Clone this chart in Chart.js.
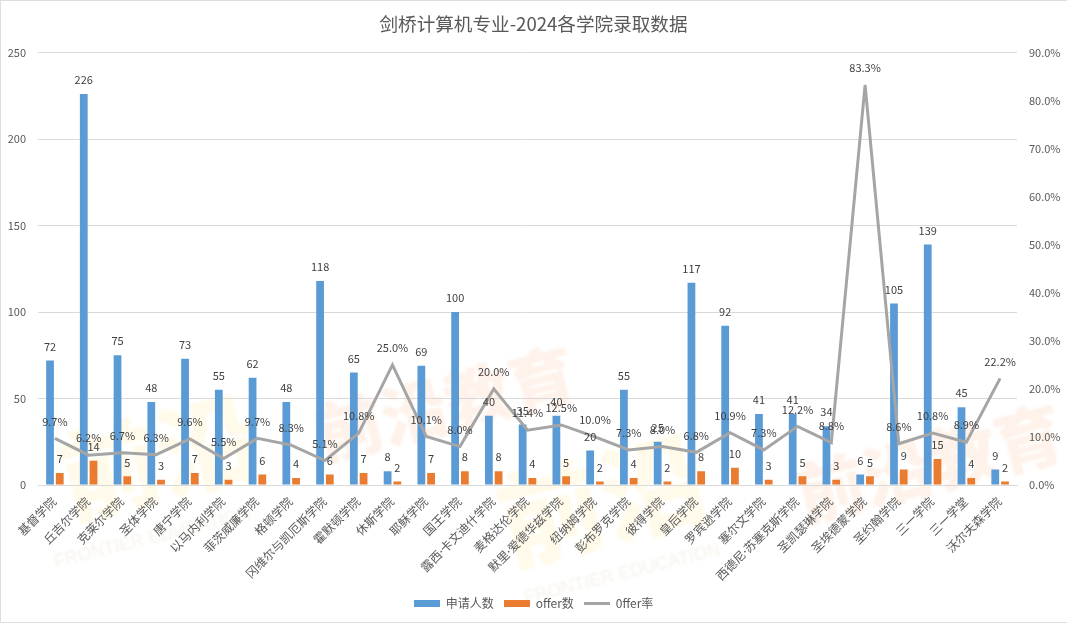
<!DOCTYPE html>
<html>
<head>
<meta charset="utf-8">
<script src="https://cdn.jsdelivr.net/npm/chart.js@4/dist/chart.umd.min.js"></script>
<style>
    html, body { margin: 0; padding: 0; background: #fff; }
    #wrap { position: relative; width: 1067px; height: 623px; overflow: hidden; box-shadow: inset 1px 1px 0 #dedede, inset 0 -1px 0 #dedede; }
    #wrap canvas { position: absolute; left: 0; top: 0; }
    .wm { position: absolute; white-space: nowrap; font-family: "Noto Sans CJK SC"; font-weight: 900; transform-origin: left top; transform: rotate(-14deg); filter: blur(1px); }
    .wm.en { font-family: "Liberation Sans"; font-weight: 400; font-size: 18px; color: #f6f3ea; }
</style>
</head>
<body>
<div id="wrap">
    <div class="wm" style="left:42px;top:405px;font-size:100px;color:#fffaea;">前沿</div>
    <div class="wm" style="left:305px;top:385px;font-size:66px;color:#fef2ea;">前沿教育</div>
    <div class="wm" style="left:480px;top:445px;font-size:105px;color:#fffaea;">前沿</div>
    <div class="wm" style="left:785px;top:445px;font-size:68px;color:#fef2ea;">前沿教育</div>
    <div class="wm en" style="left:52px;top:552px;">FRONTIER EDUCATION</div>
    <div class="wm en" style="left:522px;top:588px;">FRONTIER EDUCATION</div>
    <canvas id="c" width="1067" height="623"></canvas>
</div>
<script>
// ── Data ──
const colleges = ['基督学院','丘吉尔学院','克莱尔学院','圣体学院','唐宁学院','以马内利学院','菲茨威廉学院','格顿学院','冈维尔与凯厄斯学院','霍默顿学院','休斯学院','耶稣学院','国王学院','露西·卡文迪什学院','麦格达伦学院','默里·爱德华兹学院','纽纳姆学院','彭布罗克学院','彼得学院','皇后学院','罗宾逊学院','塞尔文学院','西德尼·苏塞克斯学院','圣凯瑟琳学院','圣埃德蒙学院','圣约翰学院','三一学院','三一学堂','沃尔夫森学院'];
const applicants = [72,226,75,48,73,55,62,48,118,65,8,69,100,40,35,40,20,55,25,117,92,41,41,34,6,105,139,45,9];
const offers = [7,14,5,3,7,3,6,4,6,7,2,7,8,8,4,5,2,4,2,8,10,3,5,3,5,9,15,4,2];
const offerRate = [9.7,6.2,6.7,6.3,9.6,5.5,9.7,8.3,5.1,10.8,25.0,10.1,8.0,20.0,11.4,12.5,10.0,7.3,8.0,6.8,10.9,7.3,12.2,8.8,83.3,8.6,10.8,8.9,22.2];

const FONT = '"Noto Sans CJK SC", "Noto Sans"';
const BLUE = '#5B9BD5', ORANGE = '#E97C30', GREY = '#A5A5A5';

// small legend swatches, the line one is thinner than the bars
function swatch(color, h) {
    const cv = document.createElement('canvas');
    cv.width = 26; cv.height = h;
    const g = cv.getContext('2d');
    g.fillStyle = color;
    g.fillRect(0, 0, 26, h);
    return cv;
}
const swatches = [swatch(BLUE, 7), swatch(ORANGE, 7), swatch(GREY, 3)];

// ── Value labels above bars and line points ──
const valueLabels = {
    id: 'valueLabels',
    afterDatasetsDraw(chart) {
        const ctx = chart.ctx;
        ctx.save();
        ctx.font = '11px ' + FONT;
        ctx.fillStyle = '#404040';
        ctx.textAlign = 'center';
        ctx.textBaseline = 'middle';
        chart.data.datasets.forEach((ds, i) => {
            chart.getDatasetMeta(i).data.forEach((el, j) => {
                const isLine = ds.type === 'line';
                const txt = isLine ? ds.data[j].toFixed(1) + '%' : String(ds.data[j]);
                ctx.fillText(txt, el.x, el.y - (isLine ? 17 : 14));
            });
        });
        ctx.restore();
    }
};

new Chart(document.getElementById('c'), {
    type: 'bar',
    data: {
        labels: colleges,
        datasets: [
            { label: '申请人数', data: applicants, backgroundColor: BLUE, categoryPercentage: 0.576, barPercentage: 0.8, yAxisID: 'y', order: 2 },
            { label: 'offer数', data: offers, backgroundColor: ORANGE, categoryPercentage: 0.576, barPercentage: 0.8, yAxisID: 'y', order: 2 },
            { type: 'line', label: '0ffer率', data: offerRate, borderColor: GREY, backgroundColor: GREY, borderWidth: 3, pointRadius: 0, tension: 0, yAxisID: 'y1', order: 1 }
        ]
    },
    options: {
        responsive: false,
        animation: false,
        layout: { padding: { top: 0, bottom: 4, left: 0, right: 0 } },
        plugins: {
            title: { display: true, text: '剑桥计算机专业-2024各学院录取数据', color: '#595959', font: { family: FONT, size: 18.6, lineHeight: 1.16, weight: 'normal' }, padding: { top: 13, bottom: 18 } },
            legend: {
                position: 'bottom',
                labels: {
                    color: '#595959', font: { family: FONT, size: 12 }, usePointStyle: true, pointStyleWidth: 26, boxHeight: 8, padding: 10,
                    sort: (a, b) => a.datasetIndex - b.datasetIndex,
                    generateLabels: chart => Chart.defaults.plugins.legend.labels.generateLabels(chart)
                        .map(l => ({ ...l, pointStyle: swatches[l.datasetIndex] }))
                }
            },
            tooltip: { enabled: false }
        },
        scales: {
            x: {
                grid: { display: false },
                border: { color: '#D9D9D9' },
                afterFit: s => { s.height = 102; },
                ticks: { color: '#595959', font: { family: '"Noto Sans", "Noto Sans CJK SC"', size: 12 }, minRotation: 45, maxRotation: 45, autoSkip: false, padding: 2 }
            },
            y: {
                min: 0, max: 250,
                afterFit: s => { s.width = 38; },
                grid: { color: '#D9D9D9', drawTicks: false },
                border: { display: false },
                ticks: { stepSize: 50, color: '#595959', font: { family: FONT, size: 11 }, padding: 12 }
            },
            y1: {
                position: 'right', min: 0, max: 90,
                afterFit: s => { s.width = 50; },
                grid: { display: false, drawTicks: false },
                border: { display: false },
                ticks: { stepSize: 10, color: '#595959', font: { family: FONT, size: 11 }, padding: 12, callback: v => v.toFixed(1) + '%' }
            }
        }
    },
    plugins: [valueLabels]
});
</script>
</body>
</html>
